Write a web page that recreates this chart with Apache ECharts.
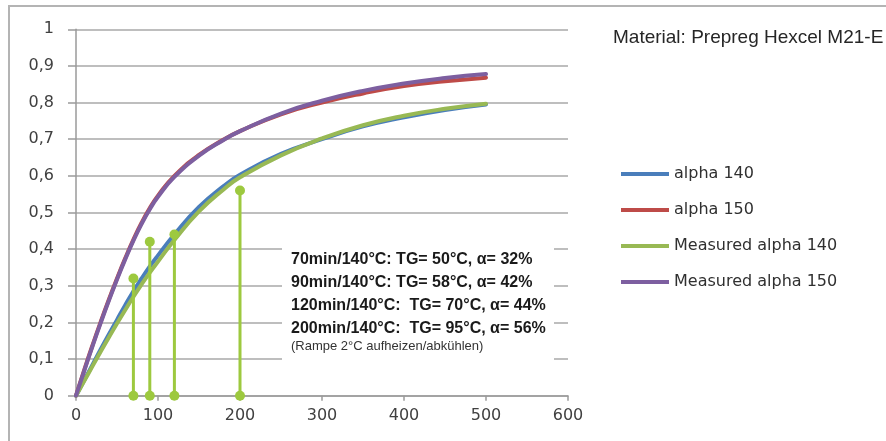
<!DOCTYPE html>
<html>
<head>
<meta charset="utf-8">
<script src="https://cdn.jsdelivr.net/npm/echarts@6/dist/echarts.min.js"></script>
<style>
  html, body { margin: 0; padding: 0; background: #fff; }
  #chart { width: 886px; height: 441px; }
</style>
</head>
<body>
<div id="chart"></div>
<script>
// Cure time in minutes
const time = [0, 10, 20, 30, 40, 50, 60, 70, 80, 90, 100, 120, 150, 180, 200, 250, 300, 350, 400, 450, 500];

// Degree of cure, model and measured
const alpha140 = [0, 0.042, 0.084, 0.126, 0.167, 0.207, 0.247, 0.285, 0.32, 0.353, 0.383, 0.44, 0.515, 0.572, 0.603, 0.66, 0.70, 0.735, 0.76, 0.78, 0.795];
const alpha150 = [0, 0.07, 0.137, 0.201, 0.262, 0.32, 0.375, 0.426, 0.472, 0.512, 0.546, 0.6, 0.657, 0.699, 0.722, 0.768, 0.8, 0.825, 0.845, 0.858, 0.868];
const measured140 = [0, 0.04, 0.08, 0.12, 0.159, 0.197, 0.234, 0.27, 0.304, 0.336, 0.366, 0.425, 0.503, 0.563, 0.596, 0.656, 0.702, 0.738, 0.764, 0.783, 0.797];
const measured150 = [0, 0.068, 0.134, 0.198, 0.259, 0.317, 0.372, 0.423, 0.469, 0.509, 0.543, 0.597, 0.655, 0.698, 0.722, 0.77, 0.805, 0.832, 0.852, 0.867, 0.878];

// Sample points at 140°C (time in min, degree of cure)
const sampleTime = [70, 90, 120, 200];
const sampleAlpha = [0.32, 0.42, 0.44, 0.56];

const seriesNames = ['alpha 140', 'alpha 150', 'Measured alpha 140', 'Measured alpha 150'];
const seriesColors = ['#4a7ebb', '#be4b48', '#98b954', '#7d5fa0'];

const noteLines = [
  '70min/140°C: TG= 50°C, α= 32%',
  '90min/140°C: TG= 58°C, α= 42%',
  '120min/140°C:  TG= 70°C, α= 44%',
  '200min/140°C:  TG= 95°C, α= 56%'
];
const noteSmall = '(Rampe 2°C aufheizen/abkühlen)';
const titleText = 'Material: Prepreg Hexcel M21-E';

const AXIS_FONT = "'DejaVu Sans', Verdana, sans-serif";
const TEXT_FONT = "'Liberation Sans', Arial, sans-serif";

const zip = (xs, ys) => xs.map((x, i) => [x, ys[i]]);

const curveSeries = [alpha140, alpha150, measured140, measured150].map((vals, i) => ({
  name: seriesNames[i],
  type: 'line',
  data: zip(time, vals),
  smooth: true,
  showSymbol: false,
  symbol: 'none',
  lineStyle: { width: 4, color: seriesColors[i], cap: 'round' },
  itemStyle: { color: seriesColors[i] },
  z: 3 + i
}));

const sampleSeries = sampleTime.map((t, i) => ({
  name: 'sample' + i,
  type: 'line',
  data: [[t, 0], [t, sampleAlpha[i]]],
  symbol: 'circle',
  symbolSize: 10,
  showSymbol: true,
  lineStyle: { width: 3, color: '#9dc93f' },
  itemStyle: { color: '#9dc93f' },
  z: 8
}));

const chart = echarts.init(document.getElementById('chart'));
chart.setOption({
  animation: false,
  backgroundColor: '#fff',
  grid: { left: 76, right: 318, top: 29.3, bottom: 45.3 },
  xAxis: {
    type: 'value', min: 0, max: 600, interval: 100,
    axisLine: { show: true, lineStyle: { color: '#9a9a9a', width: 1.5 } },
    axisTick: { show: true, length: 5, lineStyle: { color: '#9a9a9a', width: 1.5 } },
    splitLine: { show: false },
    axisLabel: { margin: 12, fontFamily: AXIS_FONT, fontSize: 16, color: '#404040' }
  },
  yAxis: {
    type: 'value', min: 0, max: 1, interval: 0.1,
    axisLine: { show: true, lineStyle: { color: '#9a9a9a', width: 1.5 } },
    axisTick: { show: true, length: 8, lineStyle: { color: '#9a9a9a', width: 1.5 } },
    splitLine: { show: true, lineStyle: { color: '#a8a8a8', width: 1.5 } },
    axisLabel: {
      margin: 22, fontFamily: AXIS_FONT, fontSize: 16, color: '#404040',
      formatter: v => String(Math.round(v * 10) / 10).replace('.', ',')
    }
  },
  legend: {
    data: seriesNames,
    orient: 'vertical',
    left: 616, top: 160,
    icon: 'rect',
    itemWidth: 48, itemHeight: 4,
    itemGap: 18,
    textStyle: { fontFamily: AXIS_FONT, fontSize: 16, color: '#303030', lineHeight: 18 }
  },
  graphic: [
    {
      type: 'rect', z: 0, silent: true,
      shape: { x: 9, y: 6, width: 900, height: 460 },
      style: { fill: 'none', stroke: '#b4b4b4', lineWidth: 2 }
    },
    {
      type: 'rect', z: 10, silent: true,
      shape: { x: 282, y: 240, width: 272, height: 128 },
      style: { fill: '#fff', stroke: 'none' }
    },
    {
      type: 'text', z: 11, left: 613, top: 28,
      style: { text: titleText, fontFamily: TEXT_FONT, fontSize: 19, fill: '#262626' }
    },
    ...noteLines.map((t, i) => ({
      type: 'text', z: 11, left: 291, top: 252 + i * 23,
      style: { text: t, fontFamily: TEXT_FONT, fontWeight: 'bold', fontSize: 16, fill: '#1a1a1a' }
    })),
    {
      type: 'text', z: 11, left: 291, top: 340,
      style: { text: noteSmall, fontFamily: TEXT_FONT, fontSize: 13, fill: '#333' }
    }
  ],
  series: [...curveSeries, ...sampleSeries]
});
</script>
</body>
</html>
